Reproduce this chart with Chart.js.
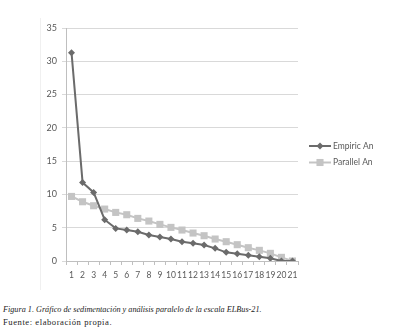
<!DOCTYPE html>
<html>
<head>
<meta charset="utf-8">
<script src="https://cdn.jsdelivr.net/npm/chart.js@4/dist/chart.umd.min.js"></script>
<style>
  html, body { margin: 0; padding: 0; background: #fff; }
  body { width: 400px; height: 335px; position: relative; overflow: hidden; }
  #frame { position: absolute; left: 40px; top: 18px; width: 340px; height: 272px; border-left: 1px solid #f0f0f0; }
  #wrap { position: absolute; left: 0; top: 0; width: 400px; height: 290px; }
  .cap { position: absolute; left: 3px; font-family: "Liberation Serif", "DejaVu Serif", serif; color: #222; white-space: nowrap; }
  #cap1 { top: 305px; font-style: italic; font-size: 8.2px; }
  #cap2 { top: 317px; font-size: 8.6px; letter-spacing: 0.55px; }
</style>
</head>
<body>
<div id="frame"></div>
<div id="wrap"><canvas id="c"></canvas></div>
<div class="cap" id="cap1">Figura 1. Gráfico de sedimentación y análisis paralelo de la escala ELBus-21.</div>
<div class="cap" id="cap2">Fuente: elaboración propia.</div>
<script>
(function () {
'use strict';
// factor numbers 1..21
const factors = ['1','2','3','4','5','6','7','8','9','10','11','12','13','14','15','16','17','18','19','20','21'];
// eigenvalues
const empiric = [31.3, 11.8, 10.3, 6.2, 4.9, 4.65, 4.4, 3.9, 3.6, 3.3, 2.9, 2.65, 2.4, 1.9, 1.3, 1.1, 0.85, 0.65, 0.4, 0.0, 0.0];
const parallel = [9.7, 8.9, 8.3, 7.8, 7.3, 6.95, 6.4, 6.0, 5.5, 5.05, 4.65, 4.2, 3.8, 3.3, 2.9, 2.45, 2.0, 1.6, 1.15, 0.55, 0.0];
const seriesNames = ['Empiric An', 'Parallel An'];
const yTicks = [0, 5, 10, 15, 20, 25, 30, 35];

const FONT = 'Lato, "Open Sans", sans-serif';
const TXT = '#595959';

// legend: short line with the marker in the middle, like the spreadsheet one
const sideLegend = {
    id: 'sideLegend',
    afterDraw(chart) {
        const ctx = chart.ctx;
        ctx.save();
        chart.data.datasets.forEach((ds, i) => {
            const y = 146 + i * 16.5;
            ctx.strokeStyle = ds.borderColor;
            ctx.lineWidth = 2;
            ctx.beginPath(); ctx.moveTo(309, y); ctx.lineTo(331, y); ctx.stroke();
            ctx.fillStyle = ds.pointBackgroundColor;
            Chart.helpers.drawPoint(ctx, { pointStyle: ds.pointStyle, radius: ds.pointRadius, borderWidth: 0 }, 320, y);
            ctx.fillStyle = TXT;
            ctx.font = '8.5px ' + FONT;
            ctx.textBaseline = 'middle';
            ctx.fillText(ds.label, 333, y);
        });
        ctx.restore();
    }
};

function init() {
    const ctx = document.getElementById('c').getContext('2d');
    new Chart(ctx, {
        type: 'line',
        data: {
            labels: factors,
            datasets: [
                { label: seriesNames[0], data: empiric, borderColor: '#6b6b6b', backgroundColor: '#6b6b6b',
                  pointBackgroundColor: '#6b6b6b', pointBorderWidth: 0, pointStyle: 'rectRot', pointRadius: 3.5,
                  borderWidth: 2, tension: 0, order: 1 },
                { label: seriesNames[1], data: parallel, borderColor: '#c4c4c4', backgroundColor: '#c4c4c4',
                  pointBackgroundColor: '#c4c4c4', pointBorderWidth: 0, pointStyle: 'rect', pointRadius: 5,
                  borderWidth: 2, tension: 0, order: 2 }
            ]
        },
        options: {
            responsive: true, maintainAspectRatio: false, animation: false,
            layout: { padding: { left: 0, right: 102, top: 28, bottom: 9 } },
            plugins: { legend: { display: false }, tooltip: { enabled: false } },
            scales: {
                x: {
                    offset: true,
                    grid: { display: true, drawOnChartArea: false, drawTicks: true, tickLength: 4, color: '#bfbfbf', offset: true },
                    border: { color: '#bfbfbf' },
                    ticks: { color: TXT, font: { family: FONT, size: 8.5 }, padding: 5, maxRotation: 0, autoSkip: false },
                    afterFit(s) { s.height = 20; }
                },
                y: {
                    min: 0, max: 35,
                    afterBuildTicks(s) { s.ticks = yTicks.map(v => ({ value: v })); },
                    grid: { color: '#d9d9d9', tickLength: 4, tickColor: '#d9d9d9' },
                    border: { color: '#bfbfbf' },
                    ticks: { color: TXT, font: { family: FONT, size: 9 }, padding: 5 },
                    afterFit(s) { s.width = 66; }
                }
            }
        },
        plugins: [sideLegend]
    });
}
if (document.readyState === 'loading') document.addEventListener('DOMContentLoaded', init);
else init();
})();
</script>
</body>
</html>
